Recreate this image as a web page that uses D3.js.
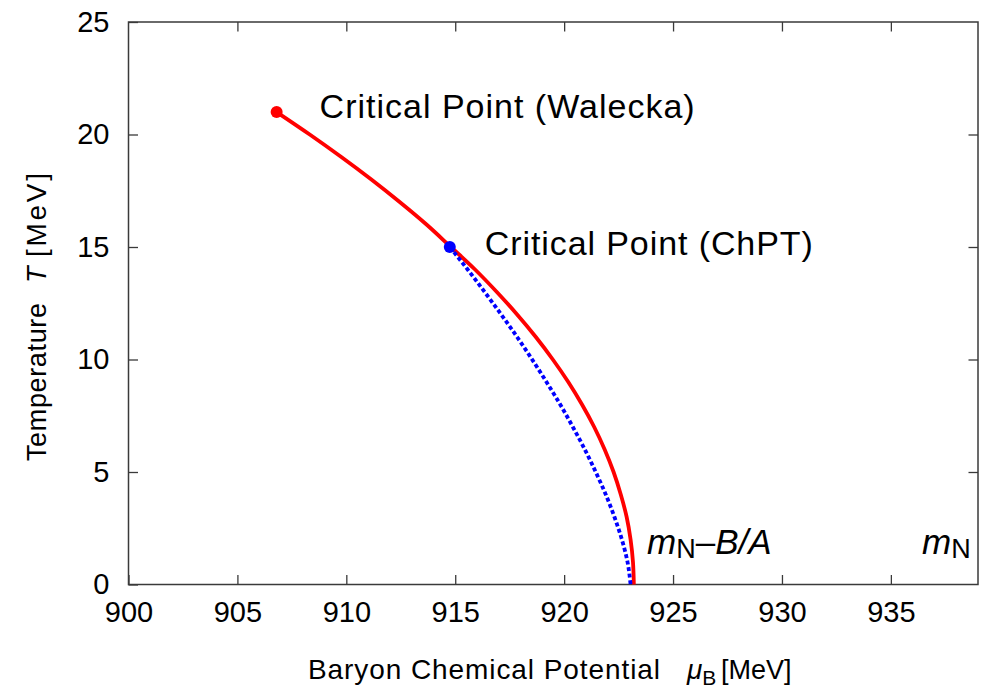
<!DOCTYPE html>
<html>
<head>
<meta charset="utf-8">
<script src="https://cdn.jsdelivr.net/npm/d3@7"></script>
<style>
  html, body { margin: 0; padding: 0; background: #fff; }
  svg { display: block; font-family: "Liberation Sans", Arial, sans-serif; }
</style>
</head>
<body>
<svg id="chart" width="982" height="688"></svg>
<script>
// Liquid-gas phase boundary of nuclear matter, T vs baryon chemical potential
// Walecka mean-field model (solid red)
const walT  = [21, 20, 19, 18, 17, 16, 15, 14, 13, 12, 11, 10, 9, 8, 7, 6, 5, 4, 3, 2, 1, 0];
const walMu = [906.8, 908.32, 909.77, 911.15, 912.45, 913.68, 914.8, 915.91, 916.91, 917.84, 918.7,
               919.48, 920.19, 920.82, 921.38, 921.86, 922.27, 922.6, 922.87, 923.05, 923.16, 923.2];
// Chiral perturbation theory (dotted blue)
const chiT  = [15, 14, 13, 12, 11, 10, 9, 8, 7, 6, 5, 4, 3, 2, 1, 0];
const chiMu = [914.75, 915.57, 916.35, 917.11, 917.84, 918.53, 919.19, 919.82, 920.4, 920.95,
               921.45, 921.91, 922.31, 922.65, 922.91, 923.05];
// Critical end points
const cpMu = [906.8, 914.75];
const cpT  = [21.0, 15.0];
const cpNames = ["Critical Point (Walecka)", "Critical Point (ChPT)"];
// Axis ticks
const xTicks = [900, 905, 910, 915, 920, 925, 930, 935];
const yTicks = [0, 5, 10, 15, 20, 25];

const svg = d3.select("#chart");
const L = 128.5, R = 978, T0 = 22, B = 584.5;

const x = d3.scaleLinear().domain([900, 939]).range([L, R]);
const y = d3.scaleLinear().domain([0, 25]).range([B, T0]);

const frameColor = "#3a3a3a";
const tickLen = 9.5;

// Axes with inward ticks on all four sides
const axStyle = g => {
  g.select(".domain").remove();
  g.selectAll(".tick line").attr("stroke", frameColor).attr("stroke-width", 1.3);
  g.selectAll(".tick text").attr("fill", "#000").attr("font-size", 29)
    .attr("font-family", "'Liberation Sans', Arial, sans-serif");
};

svg.append("g").attr("transform", `translate(0,${B})`)
  .call(d3.axisBottom(x).tickValues(xTicks).tickSizeInner(-tickLen).tickSizeOuter(0).tickPadding(17).tickFormat(d3.format("d")))
  .call(axStyle);
svg.append("g").attr("transform", `translate(0,${T0})`)
  .call(d3.axisTop(x).tickValues(xTicks.filter(v => v > 900)).tickSizeInner(-tickLen).tickSizeOuter(0).tickFormat(""))
  .call(axStyle);
svg.append("g").attr("transform", `translate(${L},0)`)
  .call(d3.axisLeft(y).tickValues(yTicks).tickSizeInner(-tickLen).tickSizeOuter(0).tickPadding(19).tickFormat(d3.format("d")))
  .call(axStyle);
svg.append("g").attr("transform", `translate(${R},0)`)
  .call(d3.axisRight(y).tickValues(yTicks.filter(v => v > 0 && v < 25)).tickSizeInner(-tickLen).tickSizeOuter(0).tickFormat(""))
  .call(axStyle);

// Plot frame
svg.append("rect")
  .attr("x", L).attr("y", T0).attr("width", R - L).attr("height", B - T0)
  .attr("fill", "none").attr("stroke", frameColor).attr("stroke-width", 1.5);

// Boundaries are single-valued in T, so interpolate monotonically along the vertical
const line = d3.line().x(d => x(d[0])).y(d => y(d[1])).curve(d3.curveMonotoneY);

// Walecka boundary
svg.append("path")
  .datum(d3.zip(walMu, walT))
  .attr("d", line)
  .attr("fill", "none").attr("stroke", "#ff0000").attr("stroke-width", 3.8);

// ChPT boundary
svg.append("path")
  .datum(d3.zip(chiMu, chiT))
  .attr("d", line)
  .attr("fill", "none").attr("stroke", "#0000ff").attr("stroke-width", 3.8)
  .attr("stroke-dasharray", "4,2.6");

// Critical points
const cpColors = ["#ff0000", "#0000ff"];
svg.selectAll("circle.cp").data(d3.zip(cpMu, cpT)).join("circle")
  .attr("class", "cp")
  .attr("cx", d => x(d[0])).attr("cy", d => y(d[1])).attr("r", 6)
  .attr("fill", (d, i) => cpColors[i]);

// Critical point labels
const labelOffsets = [[43, 6], [35, 8]];
const labelWidths = [375, 328];
svg.selectAll("text.cpl").data(d3.zip(cpMu, cpT, cpNames)).join("text")
  .attr("class", "cpl")
  .attr("x", (d, i) => x(d[0]) + labelOffsets[i][0])
  .attr("y", (d, i) => y(d[1]) + labelOffsets[i][1])
  .attr("font-size", 34).attr("fill", "#000")
  .attr("textLength", (d, i) => labelWidths[i]).attr("lengthAdjust", "spacing")
  .text(d => d[2]);

// Reference energies: m_N - B/A and m_N
const lab1 = svg.append("text").attr("x", 647).attr("y", 554).attr("font-size", 35).attr("fill", "#000");
lab1.append("tspan").attr("font-style", "italic").text("m");
lab1.append("tspan").attr("font-size", 27).attr("dy", 4).text("N");
lab1.append("tspan").attr("dy", -4).text("–");
lab1.append("tspan").attr("font-style", "italic").text("B/A");

const lab2 = svg.append("text").attr("x", 922).attr("y", 554).attr("font-size", 35).attr("fill", "#000");
lab2.append("tspan").attr("font-style", "italic").text("m");
lab2.append("tspan").attr("font-size", 27).attr("dy", 4).text("N");

// Axis titles
const xt = svg.append("text").attr("y", 679).attr("font-size", 28).attr("fill", "#000");
xt.append("tspan").attr("x", 308).attr("textLength", 352).attr("lengthAdjust", "spacing")
  .text("Baryon Chemical Potential");
xt.append("tspan").attr("x", 687).attr("font-style", "italic").text("μ");
xt.append("tspan").attr("font-size", 21).attr("dy", 6).text("B");
xt.append("tspan").attr("x", 721).attr("dy", -6).attr("font-size", 27).text("[MeV]");

const yt = svg.append("text").attr("transform", "translate(46,461) rotate(-90)")
  .attr("font-size", 27).attr("fill", "#000");
yt.append("tspan").attr("x", 0).attr("textLength", 158).attr("lengthAdjust", "spacing").text("Temperature");
yt.append("tspan").attr("x", 178).attr("font-style", "italic").text("T");
yt.append("tspan").attr("x", 204).attr("font-size", 28).attr("textLength", 84).attr("lengthAdjust", "spacing").text("[MeV]");
</script>
</body>
</html>
